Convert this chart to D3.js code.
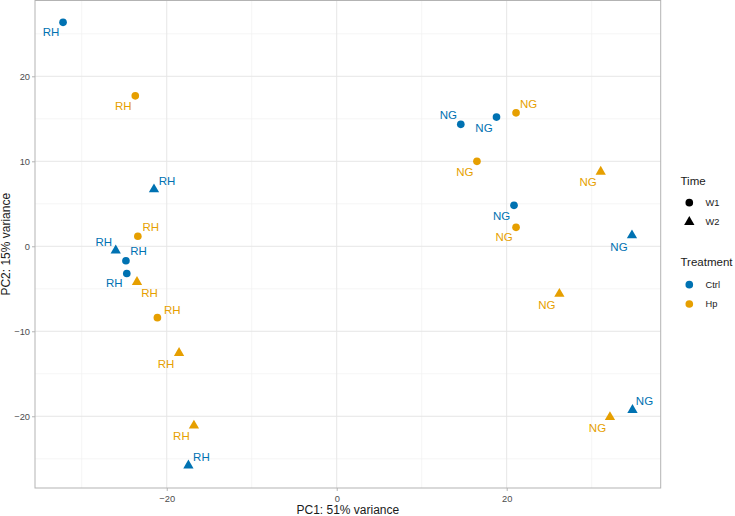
<!DOCTYPE html>
<html>
<head>
<meta charset="utf-8">
<script src="https://cdn.jsdelivr.net/npm/d3@7"></script>
<style>
  html, body { margin: 0; padding: 0; background: #fff; }
  svg { display: block; font-family: "Liberation Sans", Arial, Helvetica, sans-serif; }
</style>
</head>
<body>
<svg id="chart" width="735" height="516"></svg>
<script>
// ---- data ----
const sampleGroup = ["RH","RH","RH","RH","RH","RH","RH","RH","RH","RH","RH","RH",
                     "NG","NG","NG","NG","NG","NG","NG","NG","NG","NG","NG"];
const treatment   = ["Ctrl","Hp","Ctrl","Hp","Ctrl","Ctrl","Ctrl","Hp","Hp","Hp","Hp","Ctrl",
                     "Ctrl","Ctrl","Hp","Hp","Hp","Ctrl","Hp","Ctrl","Hp","Hp","Ctrl"];
const time        = ["W1","W1","W2","W1","W2","W1","W1","W2","W1","W2","W2","W2",
                     "W1","W1","W1","W1","W2","W1","W1","W2","W2","W2","W2"];
const pc1 = [-32.2,-23.7,-21.5,-23.4,-26.0,-24.8,-24.7,-23.5,-21.1,-18.55,-16.8,-17.45,
             14.6,18.8,21.1,16.5,31.06,20.86,21.1,34.74,26.2,32.15,34.8];
const pc2 = [26.35,17.7,6.7,1.18,-0.5,-1.7,-3.2,-4.2,-8.4,-12.55,-21.1,-25.8,
             14.35,15.2,15.7,10.0,8.78,4.82,2.23,1.29,-5.6,-20.1,-19.26];
const xTicks = [-20, 0, 20];
const yTicks = [-20, -10, 0, 10, 20];
const xMinor = [-30, -10, 10, 30];
const yMinor = [-25, -15, -5, 5, 15, 25];
const timeLevels = ["W1","W2"];
const treatmentLevels = ["Ctrl","Hp"];
const xTitle = "PC1: 51% variance";
const yTitle = "PC2: 15% variance";

// ---- layout (label repel offsets, px, text centre relative to point) ----
const labelOffsets = [
  [-12,10],[-12,10],[13,-8],[13,-9],[-12,-8.5],[12.5,-10],[-12.5,10],[12.5,11],[15,-7.5],[-13,11],[-12.5,10.5],[13,-8.5],
  [-12.5,-9.5],[-12.5,10.5],[12.5,-9],[-12,10.5],[-12.5,10.5],[-12.5,10.5],[-12,9.5],[-13,11.5],[-12.5,11.5],[-12.5,11],[12,-8.5]
];

const data = pc1.map((v, i) => ({
  x: v, y: pc2[i], group: sampleGroup[i], trt: treatment[i], time: time[i], off: labelOffsets[i]
}));

const svg = d3.select("#chart");
const panel = { left: 35, right: 660.7, top: 0.5, bottom: 488 };

const x = d3.scaleLinear().domain([-35.5, 38.12]).range([panel.left, panel.right]);
const y = d3.scaleLinear().domain([-28.44, 28.92]).range([panel.bottom, panel.top]);

const color = d3.scaleOrdinal().domain(treatmentLevels).range(["#0072B2", "#E69F00"]);
const shape = d3.scaleOrdinal().domain(timeLevels).range([d3.symbolCircle, d3.symbolTriangle]);
const shapeSize = d3.scaleOrdinal().domain(timeLevels).range([46, 46]);

// background
svg.append("rect").attr("x", panel.left).attr("y", panel.top)
  .attr("width", panel.right - panel.left).attr("height", panel.bottom - panel.top)
  .attr("fill", "#fff");

// grid
const grid = svg.append("g");
grid.selectAll(".xmin").data(xMinor).join("line")
  .attr("x1", d => x(d)).attr("x2", d => x(d)).attr("y1", panel.top).attr("y2", panel.bottom)
  .attr("stroke", "#f0f0f0").attr("stroke-width", 0.7);
grid.selectAll(".ymin").data(yMinor).join("line")
  .attr("y1", d => y(d)).attr("y2", d => y(d)).attr("x1", panel.left).attr("x2", panel.right)
  .attr("stroke", "#f0f0f0").attr("stroke-width", 0.7);
grid.selectAll(".xmaj").data(xTicks).join("line")
  .attr("x1", d => x(d)).attr("x2", d => x(d)).attr("y1", panel.top).attr("y2", panel.bottom)
  .attr("stroke", "#e6e6e6").attr("stroke-width", 1);
grid.selectAll(".ymaj").data(yTicks).join("line")
  .attr("y1", d => y(d)).attr("y2", d => y(d)).attr("x1", panel.left).attr("x2", panel.right)
  .attr("stroke", "#e6e6e6").attr("stroke-width", 1);

// axes
const fmt = d => d < 0 ? "\u2212" + Math.abs(d) : String(d);
const xAxis = svg.append("g").attr("transform", `translate(0,${panel.bottom})`)
  .call(d3.axisBottom(x).tickValues(xTicks).tickSize(3).tickPadding(2).tickFormat(fmt));
const yAxis = svg.append("g").attr("transform", `translate(${panel.left},0)`)
  .call(d3.axisLeft(y).tickValues(yTicks).tickSize(3).tickPadding(2).tickFormat(fmt));
[xAxis, yAxis].forEach(a => {
  a.select(".domain").remove();
  a.selectAll(".tick line").attr("stroke", "#b3b3b3");
  a.selectAll(".tick text").attr("fill", "#4d4d4d").attr("font-size", "9.3px")
    .attr("font-family", "Liberation Sans, Arial, sans-serif");
});
xAxis.selectAll(".tick text").attr("dy", "0.95em");

// border
svg.append("rect").attr("x", panel.left).attr("y", panel.top)
  .attr("width", panel.right - panel.left).attr("height", panel.bottom - panel.top)
  .attr("fill", "none").attr("stroke", "#b3b3b3").attr("stroke-width", 1);

// labels
svg.append("g").selectAll("text").data(data).join("text")
  .attr("x", d => x(d.x) + d.off[0]).attr("y", d => y(d.y) + d.off[1])
  .attr("text-anchor", "middle").attr("dominant-baseline", "central")
  .attr("font-size", "11.5px").attr("fill", d => color(d.trt))
  .text(d => d.group);

// points
svg.append("g").selectAll("path").data(data).join("path")
  .attr("transform", d => `translate(${x(d.x)},${y(d.y)})`)
  .attr("d", d => d3.symbol().type(shape(d.time)).size(shapeSize(d.time))())
  .attr("fill", d => color(d.trt));

// axis titles
svg.append("text").attr("x", (panel.left + panel.right) / 2).attr("y", 513.5)
  .attr("text-anchor", "middle").attr("font-size", "12px").attr("fill", "#1a1a1a").text(xTitle);
svg.append("text").attr("transform", `translate(10,${(panel.top + panel.bottom) / 2}) rotate(-90)`)
  .attr("text-anchor", "middle").attr("font-size", "12px").attr("fill", "#1a1a1a").text(yTitle);

// legends
const legX = 680.5;
const lg1 = svg.append("g");
lg1.append("text").attr("x", legX).attr("y", 185).attr("font-size", "11.5px").attr("fill", "#1a1a1a").text("Time");
lg1.selectAll("path").data(timeLevels).join("path")
  .attr("transform", (d, i) => `translate(689.3,${202.7 + i * 19.3})`)
  .attr("d", d => d3.symbol().type(shape(d)).size(shapeSize(d))())
  .attr("fill", "#000");
lg1.selectAll("text.lab").data(timeLevels).join("text").attr("class", "lab")
  .attr("x", 705.5).attr("y", (d, i) => 202.7 + i * 19.3).attr("dominant-baseline", "central")
  .attr("font-size", "9.3px").attr("fill", "#1a1a1a").text(d => d);

const lg2 = svg.append("g");
lg2.append("text").attr("x", legX).attr("y", 266).attr("font-size", "11.5px").attr("fill", "#1a1a1a").text("Treatment");
lg2.selectAll("path").data(treatmentLevels).join("path")
  .attr("transform", (d, i) => `translate(689.3,${284.7 + i * 19.3})`)
  .attr("d", d3.symbol().type(d3.symbolCircle).size(46)())
  .attr("fill", d => color(d));
lg2.selectAll("text.lab").data(treatmentLevels).join("text").attr("class", "lab")
  .attr("x", 705.5).attr("y", (d, i) => 284.7 + i * 19.3).attr("dominant-baseline", "central")
  .attr("font-size", "9.3px").attr("fill", "#1a1a1a").text(d => d);
</script>
</body>
</html>
